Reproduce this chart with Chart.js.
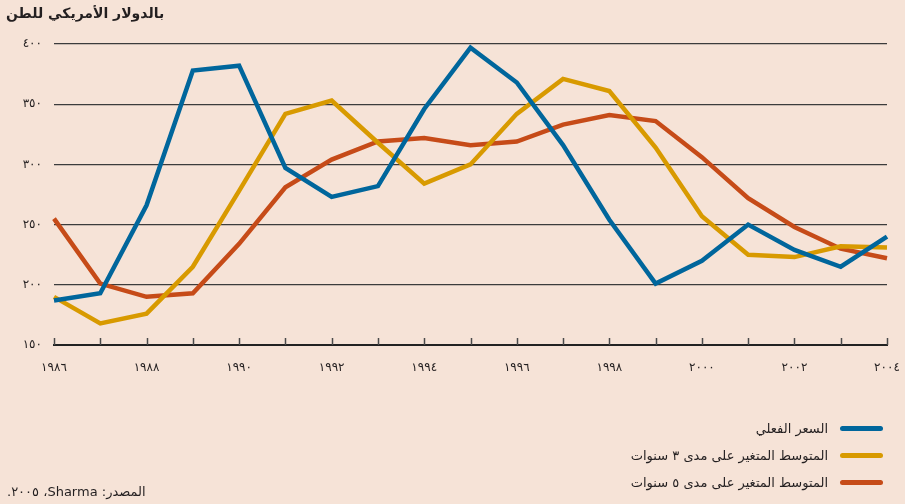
<!DOCTYPE html>
<html lang="ar">
<head>
<meta charset="utf-8">
<script src="https://cdn.jsdelivr.net/npm/chart.js@4.4.1/dist/chart.umd.min.js"></script>
<style>
    html, body {
        margin: 0;
        padding: 0;
        background: #f6e3d7;
    }
    #wrap {
        position: relative;
        width: 905px;
        height: 504px;
        background: #f6e3d7;
        font-family: 'DejaVu Sans', sans-serif;
        color: #231f20;
    }
    #priceChart {
        position: absolute;
        left: 0;
        top: 0;
    }
    .title {
        position: absolute;
        left: 6px;
        top: 5px;
        font-size: 14px;
        font-weight: bold;
    }
    .legend {
        position: absolute;
        right: 22px;
        top: 415px;
    }
    .legend-item {
        display: flex;
        align-items: center;
        justify-content: flex-start;
        height: 27px;
        font-size: 13px;
    }
    .legend-item .swatch {
        width: 43px;
        height: 5px;
        border-radius: 3px;
        margin-left: 12px;
    }
    .source {
        position: absolute;
        left: 7px;
        top: 484px;
        font-size: 13px;
    }
</style>
</head>
<body>
<div id="wrap">
    <canvas id="priceChart" width="905" height="504"></canvas>
    <div class="title" dir="rtl">بالدولار الأمريكي للطن</div>
    <div class="legend" id="legend" dir="rtl"></div>
    <div class="source" dir="rtl">المصدر: Sharma، ٢٠٠٥.</div>
</div>
<script>
// Price data, USD per ton
const years = ['1986', '1987', '1988', '1989', '1990', '1991', '1992', '1993', '1994', '1995',
    '1996', '1997', '1998', '1999', '2000', '2001', '2002', '2003', '2004'];
const actualPrice = [187, 193, 266, 378, 382, 297, 273, 282, 346, 397, 368, 316, 254, 201, 220, 250, 229, 215, 240];
const movingAvg3 = [190, 168, 176, 215, 278, 342, 353, 318, 284, 300, 342, 371, 361, 314, 257, 225, 223, 232, 231];
const movingAvg5 = [255, 201, 190, 193, 234, 281, 304, 319, 322, 316, 319, 333, 341, 336, 306, 272, 248, 230, 222];
const yTicks = [150, 200, 250, 300, 350, 400];

const seriesNames = ['السعر الفعلي', 'المتوسط المتغير على مدى ٣ سنوات', 'المتوسط المتغير على مدى ٥ سنوات'];
const seriesColors = ['#00669c', '#d89a00', '#c64b18'];

const toArabicDigits = (v) => String(v).replace(/\d/g, d => '٠١٢٣٤٥٦٧٨٩'[d]);

// small upward tick marks on the x axis + wider digit spacing
const upTicks = {
    id: 'upTicks',
    beforeDraw(chart) {
        chart.ctx.letterSpacing = '2px';
    },
    beforeDatasetsDraw(chart) {
        const { ctx, chartArea, scales } = chart;
        ctx.save();
        ctx.strokeStyle = '#4a4a4a';
        ctx.lineWidth = 1.5;
        years.forEach((y, i) => {
            const x = Math.round(scales.x.getPixelForValue(i)) + 0.5;
            ctx.beginPath();
            ctx.moveTo(x, chartArea.bottom);
            ctx.lineTo(x, chartArea.bottom - 7);
            ctx.stroke();
        });
        ctx.restore();
    }
};

const datasets = [actualPrice, movingAvg3, movingAvg5].map((data, i) => ({
    label: seriesNames[i],
    data: data,
    borderColor: seriesColors[i],
    backgroundColor: seriesColors[i],
    borderWidth: 4.5,
    pointRadius: 0,
    tension: 0,
    borderJoinStyle: 'miter',
    borderCapStyle: 'butt',
    fill: false
}));

new Chart(document.getElementById('priceChart'), {
    type: 'line',
    data: { labels: years, datasets: datasets },
    options: {
        responsive: false,
        animation: false,
        devicePixelRatio: 1,
        layout: {
            padding: { top: 44, right: 18, bottom: 0, left: 0 }
        },
        plugins: {
            legend: { display: false },
            tooltip: { enabled: false }
        },
        scales: {
            x: {
                type: 'category',
                offset: false,
                afterFit: (scale) => {
                    scale.height = 159;
                    scale.paddingLeft = 0;
                    scale.paddingRight = 0;
                },
                grid: { display: false, drawTicks: false },
                border: { display: true, color: '#222', width: 2 },
                ticks: {
                    autoSkip: false,
                    maxRotation: 0,
                    padding: 16,
                    color: '#231f20',
                    font: { family: 'DejaVu Sans', size: 12 },
                    callback: (value, index) => (index % 2 === 0 ? toArabicDigits(years[index]) : '')
                }
            },
            y: {
                min: 150,
                max: 400,
                afterFit: (scale) => { scale.width = 54; },
                afterBuildTicks: (scale) => { scale.ticks = yTicks.map(v => ({ value: v })); },
                grid: {
                    drawTicks: false,
                    color: '#3c3c3c',
                    lineWidth: 1.2
                },
                border: { display: false },
                ticks: {
                    padding: 12,
                    color: '#231f20',
                    font: { family: 'DejaVu Sans', size: 12 },
                    callback: (value) => toArabicDigits(value)
                }
            }
        }
    },
    plugins: [upTicks]
});

// legend built from the same series
const legend = document.getElementById('legend');
seriesNames.forEach((name, i) => {
    const item = document.createElement('div');
    item.className = 'legend-item';
    const sw = document.createElement('span');
    sw.className = 'swatch';
    sw.style.background = seriesColors[i];
    const txt = document.createElement('span');
    txt.textContent = name;
    item.appendChild(sw);
    item.appendChild(txt);
    legend.appendChild(item);
});
</script>
</body>
</html>
